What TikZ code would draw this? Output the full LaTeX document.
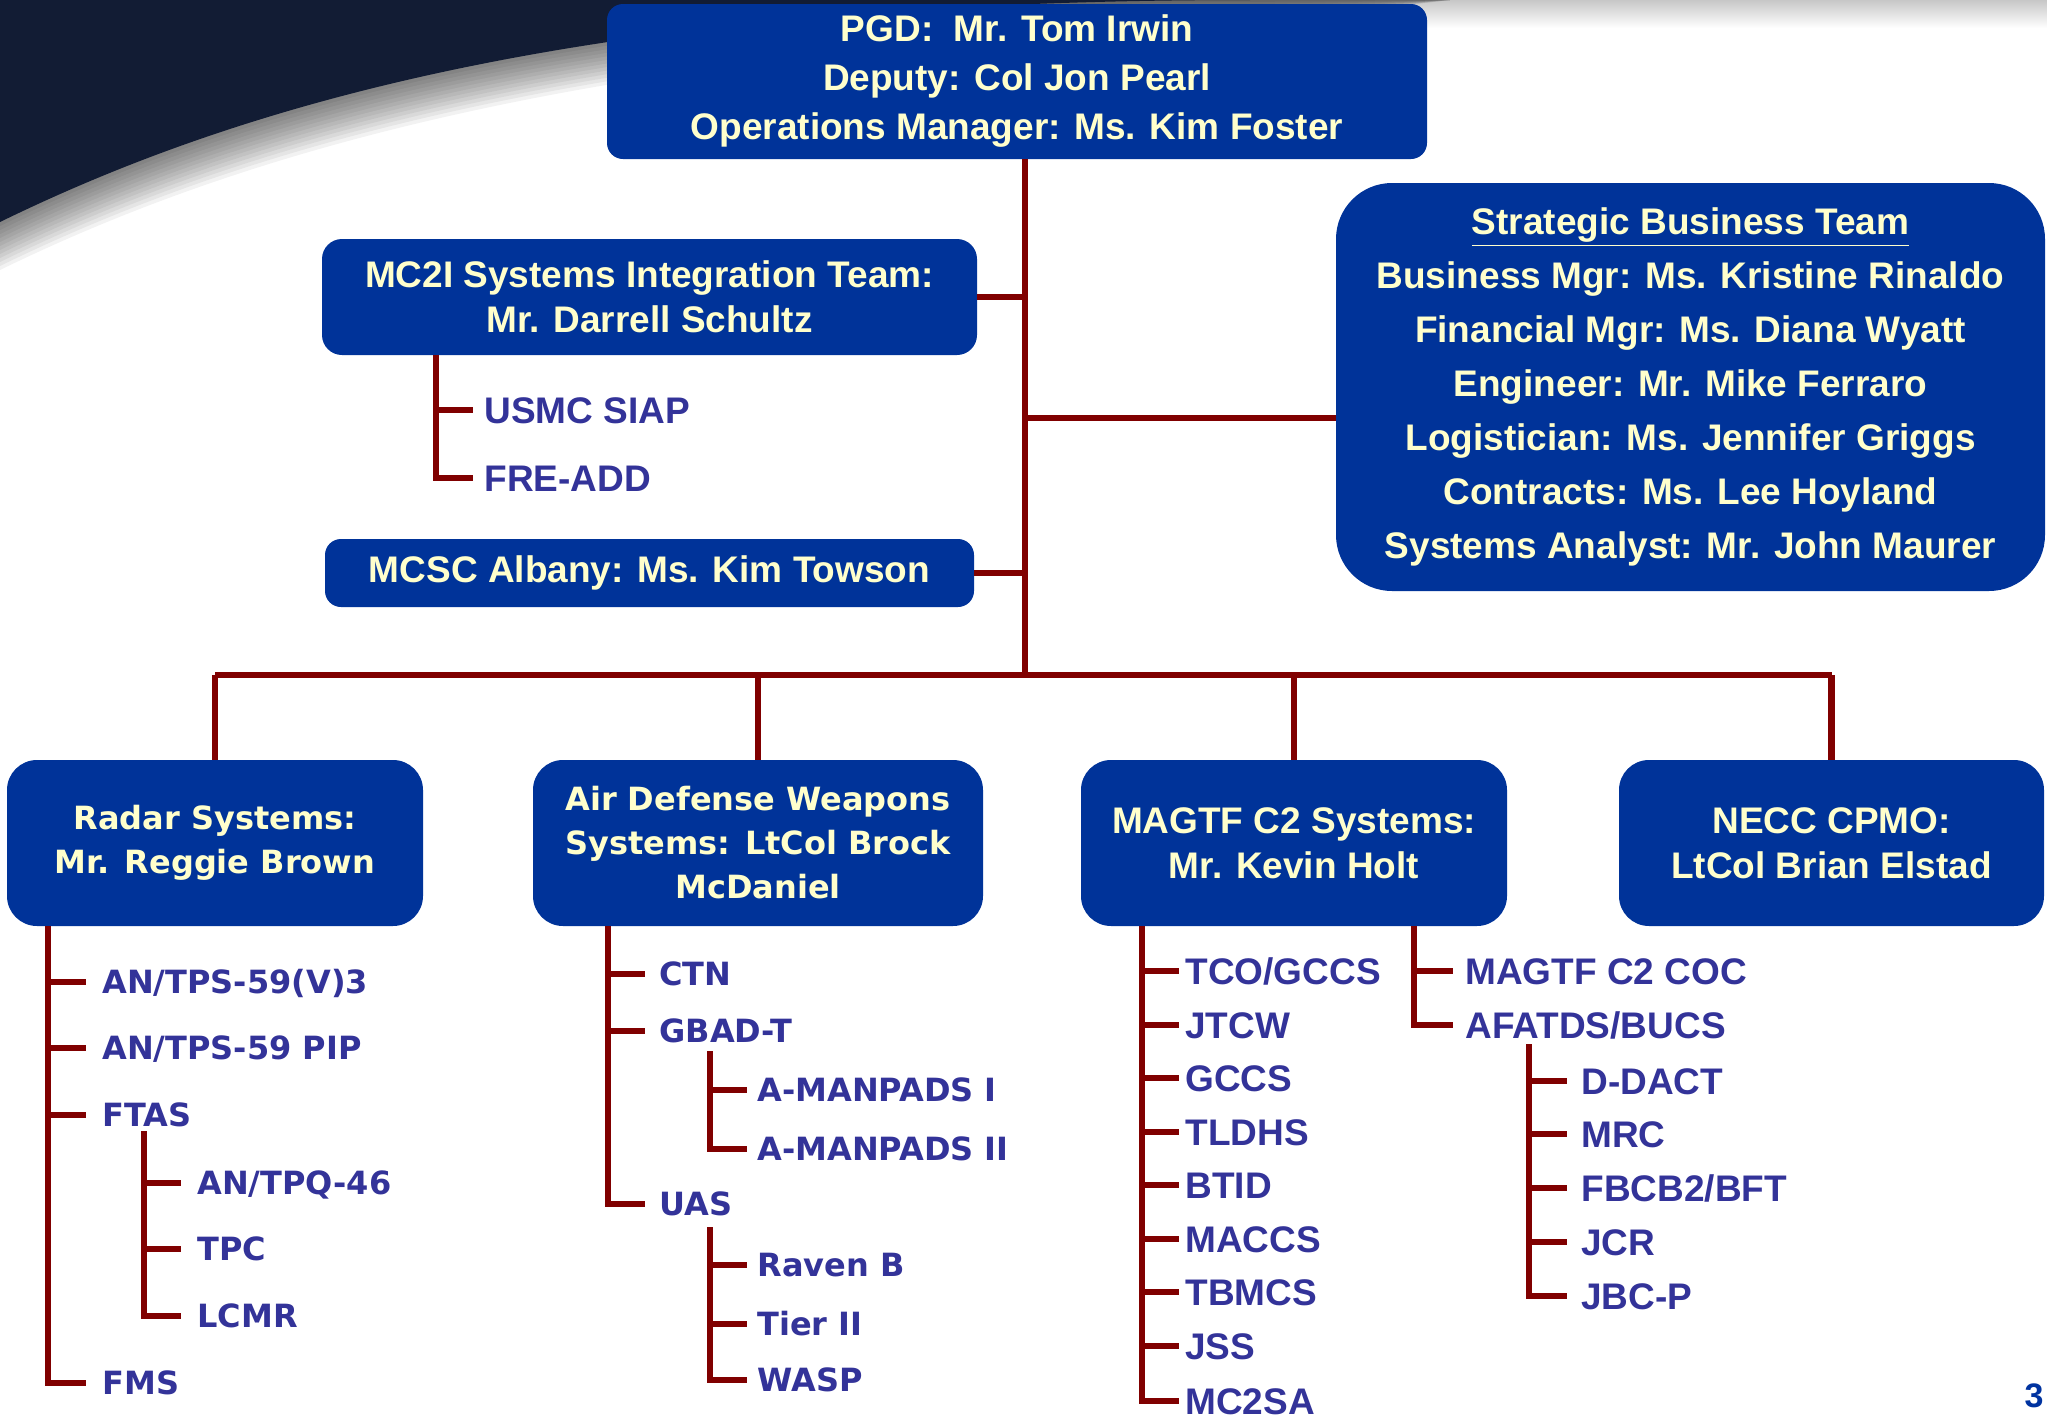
\documentclass[tikz,border=0pt]{standalone}
\usepackage{fontspec}
\setmainfont{Liberation Sans}
\newfontfamily\verd{DejaVu Sans}
\definecolor{boxblue}{HTML}{003399}
\definecolor{boxtxt}{HTML}{FFFFCC}
\definecolor{itemtxt}{HTML}{333399}
\definecolor{conncol}{HTML}{800000}
\definecolor{navy}{RGB}{18,28,52}
\definecolor{pagenum}{HTML}{0033A0}
\begin{document}
\begin{tikzpicture}[x=0.5pt,y=-0.5pt,
  boxA/.style={rounded corners=#1, fill=boxblue, text=boxtxt, align=center, inner sep=0pt,
     font=\bfseries\fontsize{18.5}{22.5}\selectfont},
  boxA/.default=10pt,
  boxV/.style={rounded corners=15pt, fill=boxblue, text=boxtxt, align=center, inner sep=0pt,
     font=\verd\bfseries\fontsize{16}{22}\selectfont},
  itemA/.style={anchor=west, inner sep=0pt, text=itemtxt, text height=13.3pt, text depth=0pt,
     font=\bfseries\fontsize{18.5}{20}\selectfont},
  itemV/.style={anchor=west, inner sep=0pt, text=itemtxt, text height=11.7pt, text depth=0pt,
     font=\verd\bfseries\fontsize{16}{18}\selectfont},
  conn/.style={draw=conncol, line width=3.3pt},
]
\useasboundingbox (0,0) rectangle (2047,1419);
\fill[white] (0,0) rectangle (2047,1419);
% background swoosh
\shade[top color=black!22, bottom color=white] (900,0) rectangle (2047,28);
\foreach \i in {1,...,12}
  \fill[black, opacity=0.05] (0,0) -- (0,222+4*\i) .. controls (250,100+4*\i) and (600,4*\i) .. (1250,2*\i) -- (1450,0) -- cycle;
\fill[navy] (0,0) -- (0,222) .. controls (250,100) and (600,0) .. (1250,0) -- cycle;

% boxes
\node[boxA=8pt, minimum width=410pt, minimum height=77.5pt, font=\bfseries\fontsize{18.5}{24.5}\selectfont] (top) at (1017,81.5)
  {PGD:\ \ Mr. Tom Irwin\\Deputy: Col Jon Pearl\\Operations Manager: Ms. Kim Foster};
\node[boxA, minimum width=327.5pt, minimum height=58pt] (mc2i) at (649.5,297)
  {MC2I Systems Integration Team:\\Mr. Darrell Schultz};
\node[boxA=8pt, minimum width=324.5pt, minimum height=34pt] (mcsc) at (649.5,573)
  {MCSC Albany: Ms. Kim Towson};
\node[boxA=28pt, minimum width=354.5pt, minimum height=204pt, font=\bfseries\fontsize{18.5}{27}\selectfont] (sbt) at (1690.5,387)
  {\underline{Strategic Business Team}\\Business Mgr: Ms. Kristine Rinaldo\\Financial Mgr: Ms. Diana Wyatt\\Engineer: Mr. Mike Ferraro\\Logistician: Ms. Jennifer Griggs\\Contracts: Ms. Lee Hoyland\\Systems Analyst: Mr. John Maurer};
\node[boxV, minimum width=208pt, minimum height=83pt] (radar) at (215,843)
  {Radar Systems:\\Mr. Reggie Brown};
\node[boxV, minimum width=225pt, minimum height=83pt] (adw) at (758,843)
  {Air Defense Weapons\\Systems: LtCol Brock\\McDaniel};
\node[boxA=15pt, minimum width=213pt, minimum height=83pt] (magtf) at (1294,843)
  {MAGTF C2 Systems:\\Mr. Kevin Holt};
\node[boxA=15pt, minimum width=212.5pt, minimum height=83pt] (necc) at (1831.5,843)
  {NECC CPMO:\\LtCol Brian Elstad};

% main trunk and bus
\coordinate (tr) at (1025,675);
\draw[conn] (top.south -| tr) -- (tr);
\draw[conn] (mc2i.east) -- (mc2i.east -| tr);
\draw[conn] (mcsc.east) -- (mcsc.east -| tr);
\draw[conn] ([yshift=-15.5pt]sbt.west) -- ([yshift=-15.5pt]sbt.west -| tr);
\draw[conn] (radar.north |- tr) -- (necc.north |- tr);
\foreach \b in {radar,adw,magtf,necc}
  \draw[conn] (\b.north |- tr) -- (\b.north);

% MC2I list
\node[itemA] (siap) at (484,410) {USMC SIAP};
\node[itemA] (fre) at (484,478) {FRE-ADD};
\coordinate (mT) at (436,355);
\draw[conn] (mc2i.south -| mT) |- ([xshift=-5.5pt]fre.west);
\draw[conn] (mT |- siap.west) -- ([xshift=-5.5pt]siap.west);

% Radar list
\node[itemV] (r1) at (102,982) {AN/TPS-59(V)3};
\node[itemV] (r2) at (102,1048) {AN/TPS-59 PIP};
\node[itemV] (r3) at (102,1115) {FTAS};
\node[itemV] (r4) at (197,1183) {AN/TPQ-46};
\node[itemV] (r5) at (197,1249) {TPC};
\node[itemV] (r6) at (197,1316) {LCMR};
\node[itemV] (r7) at (102,1383) {FMS};
\coordinate (rT) at (48,926);
\draw[conn] (radar.south -| rT) |- ([xshift=-8pt]r7.west);
\foreach \n in {r1,r2,r3} \draw[conn] (rT |- \n.west) -- ([xshift=-8pt]\n.west);
\coordinate (fT) at (144,1131);
\draw[conn] (fT) |- ([xshift=-8pt]r6.west);
\foreach \n in {r4,r5} \draw[conn] (fT |- \n.west) -- ([xshift=-8pt]\n.west);

% Air defense list
\node[itemV] (a1) at (659,974) {CTN};
\node[itemV] (a2) at (659,1031) {GBAD-T};
\node[itemV] (a3) at (757,1090) {A-MANPADS I};
\node[itemV] (a4) at (757,1149) {A-MANPADS II};
\node[itemV] (a5) at (659,1204) {UAS};
\node[itemV] (a6) at (757,1265) {Raven B};
\node[itemV] (a7) at (757,1324) {Tier II};
\node[itemV] (a8) at (757,1380) {WASP};
\coordinate (aT) at (608,926);
\draw[conn] (adw.south -| aT) |- ([xshift=-7pt]a5.west);
\foreach \n in {a1,a2} \draw[conn] (aT |- \n.west) -- ([xshift=-7pt]\n.west);
\coordinate (gT) at (710,1051);
\draw[conn] (gT) |- ([xshift=-5pt]a4.west);
\draw[conn] (gT |- a3.west) -- ([xshift=-5pt]a3.west);
\coordinate (uT) at (710,1227);
\draw[conn] (uT) |- ([xshift=-5pt]a8.west);
\foreach \n in {a6,a7} \draw[conn] (uT |- \n.west) -- ([xshift=-5pt]\n.west);

% MAGTF list
\node[itemA] (m1) at (1185,971) {TCO/GCCS};
\node[itemA] (m2) at (1185,1025) {JTCW};
\node[itemA] (m3) at (1185,1078) {GCCS};
\node[itemA] (m4) at (1185,1132) {TLDHS};
\node[itemA] (m5) at (1185,1185) {BTID};
\node[itemA] (m6) at (1185,1239) {MACCS};
\node[itemA] (m7) at (1185,1292) {TBMCS};
\node[itemA] (m8) at (1185,1346) {JSS};
\node[itemA] (m9) at (1185,1401) {MC2SA};
\coordinate (gT1) at (1142,926);
\draw[conn] (magtf.south -| gT1) |- ([xshift=-3pt]m9.west);
\foreach \n in {m1,m2,m3,m4,m5,m6,m7,m8} \draw[conn] (gT1 |- \n.west) -- ([xshift=-3pt]\n.west);

\node[itemA] (c1) at (1465,971) {MAGTF C2 COC};
\node[itemA] (c2) at (1465,1025) {AFATDS/BUCS};
\coordinate (gT2) at (1414,926);
\draw[conn] (magtf.south -| gT2) |- ([xshift=-6pt]c2.west);
\draw[conn] (gT2 |- c1.west) -- ([xshift=-6pt]c1.west);

\node[itemA] (d1) at (1581,1081) {D-DACT};
\node[itemA] (d2) at (1581,1134) {MRC};
\node[itemA] (d3) at (1581,1188) {FBCB2/BFT};
\node[itemA] (d4) at (1581,1242) {JCR};
\node[itemA] (d5) at (1581,1296) {JBC-P};
\coordinate (dT) at (1529,1044);
\draw[conn] (dT) |- ([xshift=-7pt]d5.west);
\foreach \n in {d1,d2,d3,d4} \draw[conn] (dT |- \n.west) -- ([xshift=-7pt]\n.west);

% page number
\node[text=pagenum, inner sep=0pt, font=\bfseries\fontsize{17}{17}\selectfont] (pg) at (2034,1396) {3};
\end{tikzpicture}
\end{document}
